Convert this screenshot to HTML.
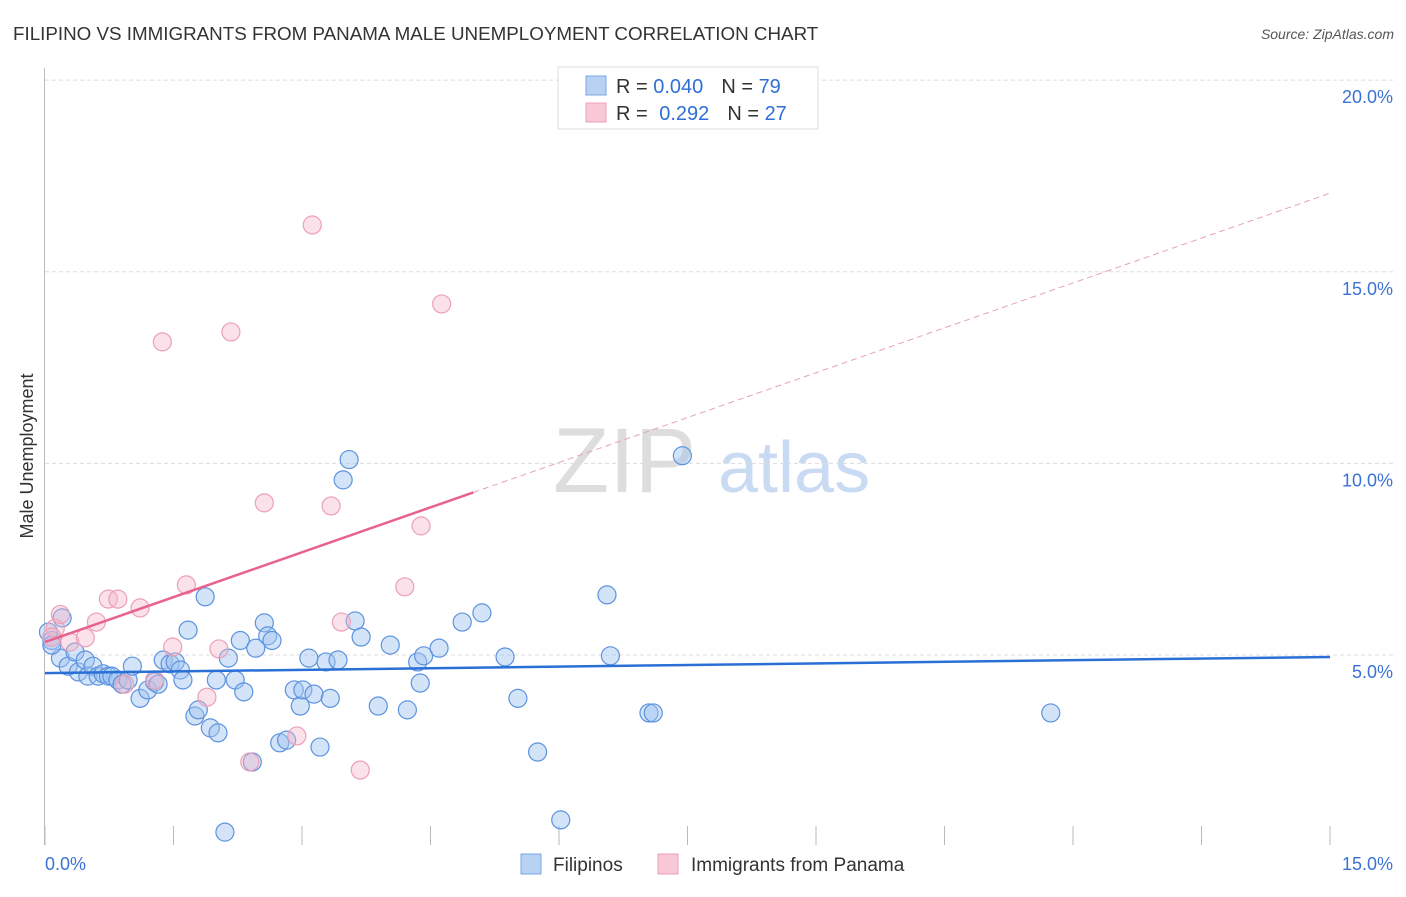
<!DOCTYPE html>
<html><head><meta charset="utf-8"><style>
body{margin:0;background:#fff;font-family:"Liberation Sans",sans-serif;}
svg text{font-family:"Liberation Sans",sans-serif;}
</style></head><body>
<svg width="1406" height="892" viewBox="0 0 1406 892" xmlns="http://www.w3.org/2000/svg">
<text x="13" y="40" font-size="18.8" fill="#333">FILIPINO VS IMMIGRANTS FROM PANAMA MALE UNEMPLOYMENT CORRELATION CHART</text>
<text x="1394" y="39" font-size="14" fill="#555" text-anchor="end" font-style="italic">Source: ZipAtlas.com</text>
<g>
<text x="553" y="492" font-size="92" font-family="Liberation Serif,serif" fill="#ddd">ZIP</text>
<text x="718" y="492" font-size="72" fill="#c9daf3">atlas</text>
</g>
<g id="grid"></g>
<g id="axes"></g>
<text transform="translate(33,456) rotate(-90)" font-size="18" fill="#333" text-anchor="middle">Male Unemployment</text>
<g id="pts"></g>
<g id="trends"></g>
<g>
<rect x="558" y="67" width="260" height="62" fill="#fff" stroke="#ddd"/>
<rect x="586" y="76" width="20" height="19" fill="#b8d2f4" stroke="#7aa7e6"/>
<rect x="586" y="103" width="20" height="19" fill="#f8c8d6" stroke="#eea0b8"/>
<text x="616" y="93" font-size="20" fill="#333">R = <tspan fill="#2f6fd6">0.040</tspan><tspan dx="18">N = </tspan><tspan fill="#2f6fd6">79</tspan></text>
<text x="616" y="120" font-size="20" fill="#333">R = <tspan dx="6" fill="#2f6fd6">0.292</tspan><tspan dx="18">N = </tspan><tspan fill="#2f6fd6">27</tspan></text>
</g>
<g>
<rect x="521" y="854" width="20" height="20" fill="#b8d2f4" stroke="#7aa7e6"/>
<text x="553" y="871" font-size="19" fill="#333">Filipinos</text>
<rect x="658" y="854" width="20" height="20" fill="#f8c8d6" stroke="#eea0b8"/>
<text x="691" y="871" font-size="19" fill="#333">Immigrants from Panama</text>
</g>
</svg>
<script>
const xTicks=[0,15];
const yTicks=[5,10,15,20];
const blueX=[0.08,0.18,0.20,0.04,0.08,0.27,0.35,0.39,0.47,0.50,0.56,0.62,0.68,0.74,0.78,0.85,0.90,0.97,1.02,1.11,1.20,1.28,1.32,1.38,1.46,1.52,1.58,1.61,1.67,1.75,1.79,1.87,1.93,2.00,2.02,2.14,2.22,2.28,2.32,2.42,2.46,2.56,2.60,2.65,2.74,2.82,2.91,2.98,3.01,3.08,3.14,3.21,3.28,3.33,3.42,3.48,3.55,3.62,3.69,3.89,4.03,4.23,4.35,4.38,4.42,4.60,4.87,5.10,5.37,5.52,5.75,6.02,6.56,6.60,7.05,7.10,7.44,11.74,2.10];
const blueY=[5.38,4.92,5.97,5.60,5.26,4.71,5.08,4.56,4.87,4.45,4.71,4.45,4.51,4.45,4.45,4.35,4.24,4.35,4.71,3.87,4.09,4.30,4.24,4.87,4.77,4.82,4.61,4.35,5.65,3.41,3.57,6.52,3.10,4.35,2.97,4.92,4.35,5.38,4.04,2.21,5.18,5.84,5.50,5.38,2.71,2.78,4.09,3.67,4.09,4.92,3.98,2.60,4.82,3.87,4.87,9.57,10.10,5.89,5.47,3.67,5.26,3.57,4.82,4.27,4.98,5.18,5.86,6.10,4.95,3.87,2.47,0.70,6.57,4.98,3.49,3.49,10.20,3.49,0.38];
const pinkX=[0.12,0.18,0.29,0.47,0.60,0.74,0.85,1.11,1.28,1.37,1.49,1.65,1.89,2.03,2.17,2.39,2.56,2.94,3.12,3.34,3.46,3.68,4.20,4.39,4.63,0.93,0.08];
const pinkY=[5.70,6.06,5.34,5.45,5.86,6.46,6.46,6.23,4.35,13.17,5.21,6.83,3.90,5.16,13.43,2.21,8.97,2.89,16.22,8.89,5.86,2.00,6.78,8.37,14.16,4.24,5.47];
const blueTrend=[4.53,4.95];
const pinkTrend=[5.34,17.05];
const pinkSolidEnd=5.0;
const NS="http://www.w3.org/2000/svg";
const X=v=>45+v*85.67, Y=v=>846.7-v*38.33;
function mk(tag,attrs,parent){const e=document.createElementNS(NS,tag);for(const k in attrs)e.setAttribute(k,attrs[k]);parent.appendChild(e);return e;}
const grid=document.getElementById('grid'),axes=document.getElementById('axes');
yTicks.forEach(t=>{
 const l=mk('line',{x1:45,x2:1393,y1:Y(t),y2:Y(t),stroke:'#ddd','stroke-dasharray':'4,3'},grid);
 
 
 const tx=mk('text',{x:1393,y:Y(t)+23,'font-size':18,fill:'#3b73d4','text-anchor':'end'},axes);
 tx.textContent=t.toFixed(1)+'%';
 
 
});
const al=mk('line',{x1:44.5,x2:44.5,y1:68,y2:845,stroke:'#bbb'},axes);


for(let i=0;i<=10;i++){const x=45+i*128.5;
 const t=mk('line',{x1:x,x2:x,y1:826,y2:845,stroke:'#bbb'},axes);
 
 }
xTicks.forEach((t,i)=>{
 const tx=mk('text',{x:i==0?45:1393,y:870,'font-size':18,fill:'#3b73d4','text-anchor':i==0?'start':'end'},axes);
 tx.textContent=t.toFixed(1)+'%';
 
 
});
const pts=document.getElementById('pts');
blueX.forEach((x,i)=>{const c=mk('circle',{cx:X(x),cy:Y(blueY[i]),r:9,fill:'rgba(160,195,240,0.45)',stroke:'#5b93de','stroke-width':1.2},pts);
 
 });
pinkX.forEach((x,i)=>{const c=mk('circle',{cx:X(x),cy:Y(pinkY[i]),r:9,fill:'rgba(245,180,200,0.4)',stroke:'#eba0b8','stroke-width':1.2},pts);
 
 });
const tr=document.getElementById('trends');
const b=mk('line',{x1:X(0),y1:Y(blueTrend[0]),x2:X(15),y2:Y(blueTrend[1]),stroke:'#2a6fd6','stroke-width':2.5},tr);


const pAt=x=>pinkTrend[0]+(pinkTrend[1]-pinkTrend[0])*x/15;
const p1=mk('line',{x1:X(0),y1:Y(pAt(0)),x2:X(pinkSolidEnd),y2:Y(pAt(pinkSolidEnd)),stroke:'#e8628c','stroke-width':2.5},tr);


const p2=mk('line',{x1:X(pinkSolidEnd),y1:Y(pAt(pinkSolidEnd)),x2:X(15),y2:Y(pAt(15)),stroke:'#e8a0b8','stroke-width':1,'stroke-dasharray':'6,4'},tr);


</script>
</body></html>
